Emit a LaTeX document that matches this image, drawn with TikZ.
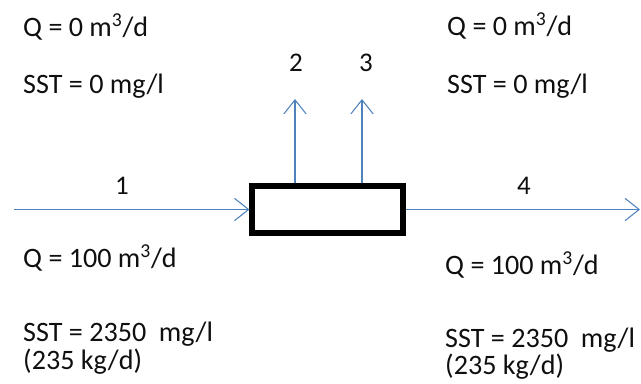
\documentclass[tikz,border=0pt]{standalone}
\usepackage{fontspec}
\setmainfont{Carlito}
\usetikzlibrary{arrows.meta}
\definecolor{flowblue}{RGB}{79,129,189}
\definecolor{txt}{RGB}{15,15,15}
\tikzset{
    flow/.style={draw=flowblue, line width=1pt, -{Straight Barb[length=12pt, width=19pt, line width=0.9pt]}}, % blue stream lines
    lbl/.style={anchor=west, inner sep=0pt, text=txt, font=\fontsize{24}{28}\selectfont}, % values
    num/.style={inner sep=0pt, text=txt, font=\fontsize{23}{28}\selectfont}, % stream numbers
}

\begin{document}
\begin{tikzpicture}[x=0.03cm, y=-0.03cm]
  \useasboundingbox (0,0) rectangle (641,383);

  \node[draw, line width=4.4pt, minimum width=4.53cm, minimum height=1.41cm] (box) at (327.5,209.5) {};

  \coordinate (in) at (14,209.5);
  \coordinate (out) at (640,209.5);
  \coordinate (t2) at (295,99);
  \coordinate (t3) at (362,99);
  \draw[flow] (in) -- (box.west);
  \draw[flow] (box.east) -- (out);
  \draw[flow] (t2 |- box.north) -- (t2);
  \draw[flow] (t3 |- box.north) -- (t3);

  \node[num] (n1) at (122,186) {1};
  \node[num] (n2) at (296,63) {2};
  \node[num] (n3) at (366,63) {3};
  \node[num] (n4) at (524,186) {4};

  \node[lbl] (q1) at (23,27) {Q = 0 m\textsuperscript{3}/d};
  \node[lbl] (s1) at (23,86) {SST = 0 mg/l};
  \node[lbl] (q2) at (447,26) {Q = 0 m\textsuperscript{3}/d};
  \node[lbl] (s2) at (447,86) {SST = 0 mg/l};

  \node[lbl] (q3) at (23,258) {Q = 100 m\textsuperscript{3}/d};
  \node[lbl] (s3) at (23,334) {SST = 2350~ mg/l};
  \node[lbl] (m3) at (23,362) {(235 kg/d)};
  \node[lbl] (q4) at (445,265) {Q = 100 m\textsuperscript{3}/d};
  \node[lbl] (s4) at (445,340) {SST = 2350~ mg/l};
  \node[lbl] (m4) at (445,367) {(235 kg/d)};
\end{tikzpicture}
\end{document}
